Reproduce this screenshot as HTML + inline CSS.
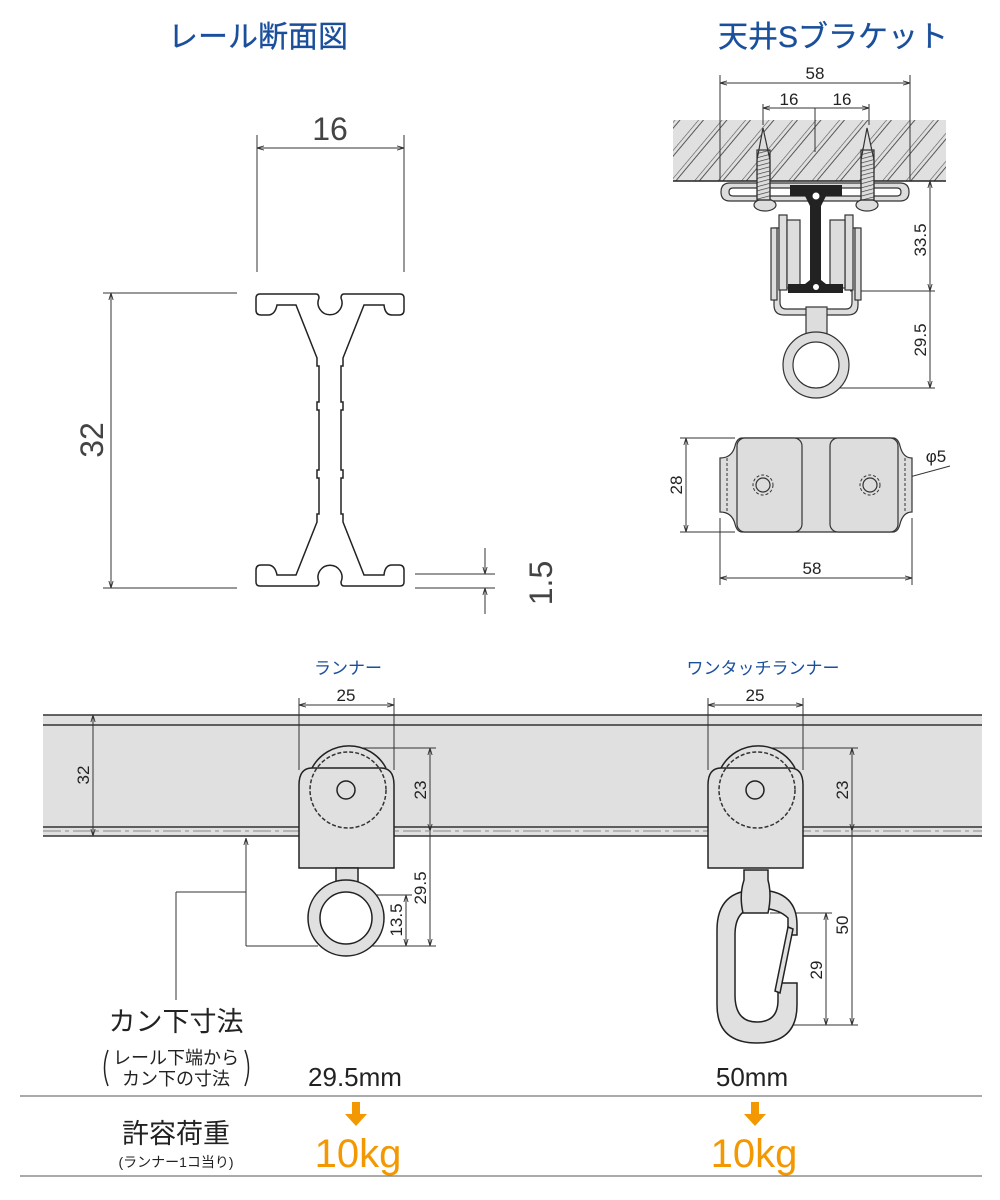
<!DOCTYPE html>
<html><head><meta charset="utf-8"><style>
body{margin:0;background:#fff}
svg{display:block;font-family:"Liberation Sans","Noto Sans CJK JP",sans-serif}
</style></head><body>
<svg width="1000" height="1200" viewBox="0 0 1000 1200" xmlns="http://www.w3.org/2000/svg">
<defs>
<marker id="a" viewBox="0 0 10 10" refX="10" refY="5" markerWidth="7" markerHeight="7" orient="auto-start-reverse"><path d="M0,2 L10,5 L0,8" fill="none" stroke="#333" stroke-width="1.3"/></marker>
<pattern id="h" width="18" height="18" patternUnits="userSpaceOnUse" patternTransform="rotate(40)"><line x1="0" y1="0" x2="0" y2="18" stroke="#333" stroke-width="1.2"/><line x1="4" y1="0" x2="4" y2="18" stroke="#333" stroke-width="1"/></pattern>
<pattern id="th" width="4" height="4" patternUnits="userSpaceOnUse" patternTransform="rotate(-15)"><line x1="0" y1="0" x2="4" y2="0" stroke="#333" stroke-width="1.3"/></pattern>
</defs>
<g fill="#1a4f9c" font-size="30" text-anchor="middle" font-weight="bold">
<text x="258" y="47" stroke="#1a4f9c" stroke-width="0.3" font-weight="normal">レール断面図</text>
<text x="833" y="47" stroke="#1a4f9c" stroke-width="0.3" font-weight="normal">天井Sブラケット</text>
</g>

<!-- rail section -->
<g stroke="#333" stroke-width="1" fill="none">
<line x1="257" y1="135" x2="257" y2="272"/><line x1="404" y1="135" x2="404" y2="272"/>
<line x1="257" y1="148" x2="404" y2="148" marker-start="url(#a)" marker-end="url(#a)"/>
<line x1="103" y1="293" x2="237" y2="293"/><line x1="103" y1="588" x2="237" y2="588"/>
<line x1="111" y1="293" x2="111" y2="588" marker-start="url(#a)" marker-end="url(#a)"/>
<line x1="415" y1="574" x2="495" y2="574"/><line x1="415" y1="588" x2="495" y2="588"/>
<line x1="485" y1="548" x2="485" y2="574" marker-end="url(#a)"/>
<line x1="485" y1="614" x2="485" y2="588" marker-end="url(#a)"/>
</g>
<g fill="#444" font-size="32" text-anchor="middle">
<text x="330" y="140">16</text>
<text transform="translate(103,440) rotate(-90)">32</text>
<text transform="translate(552,583) rotate(-90)">1.5</text>
</g>
<g fill="#fff" stroke="#222" stroke-width="1.5">
<path id="ph" d="M319,440 V410 H317 V402 H319 V366 H317 V358 L296,305 H277 Q275,315 268,315 H261 Q256,315 256,310 V298 Q256,294 260,294 H316 Q319,294 319,298 A12 12 0 1 0 341,298 Q341,294 344,294 H400 Q404,294 404,298 V310 Q404,315 399,315 H392 Q385,315 384,305 H364 L343,358 V366 H341 V402 H343 V410 H341 V440"/>
<use href="#ph" transform="translate(0,880) scale(1,-1)"/>
</g>

<!-- bracket -->
<rect x="673" y="120" width="273" height="61" fill="#e0e0e0"/>
<rect x="673" y="120" width="273" height="61" fill="url(#h)" opacity="0.8"/>
<line x1="673" y1="181" x2="946" y2="181" stroke="#222" stroke-width="1.5"/>
<g stroke="#333" stroke-width="1" fill="none">
<line x1="720" y1="75" x2="720" y2="181"/><line x1="910" y1="75" x2="910" y2="181"/>
<line x1="720" y1="83" x2="910" y2="83" marker-start="url(#a)" marker-end="url(#a)"/>
<line x1="763" y1="104" x2="763" y2="125"/><line x1="869" y1="104" x2="869" y2="125"/>
<line x1="815" y1="108" x2="763" y2="108" marker-end="url(#a)"/><line x1="815" y1="108" x2="869" y2="108" marker-end="url(#a)"/>
<line x1="815" y1="108" x2="815" y2="152"/>
<line x1="850" y1="291" x2="935" y2="291"/><line x1="816" y1="388" x2="935" y2="388"/>
<line x1="930" y1="181" x2="930" y2="291" marker-start="url(#a)" marker-end="url(#a)"/>
<line x1="930" y1="291" x2="930" y2="388" marker-end="url(#a)"/>
</g>
<g fill="#222" font-size="17" text-anchor="middle">
<text x="815" y="79">58</text><text x="789" y="105">16</text><text x="842" y="105">16</text>
<text transform="translate(926,240) rotate(-90)">33.5</text>
<text transform="translate(926,340) rotate(-90)">29.5</text>
</g>
<g stroke="#333" stroke-width="1.2" fill="#ddd">
<path d="M730,183 H900 Q909,183 909,192 Q909,201 900,201 H730 Q721,201 721,192 Q721,183 730,183 Z"/>
<path d="M733,188 H897 Q901,188 901,192 Q901,196 897,196 H733 Q729,196 729,192 Q729,188 733,188 Z" fill="#fff"/>
<ellipse cx="765" cy="205" rx="11" ry="6"/><ellipse cx="867" cy="205" rx="11" ry="6"/>
<path d="M763,128 L770,160 V200 H757 V160 Z"/><path d="M867,128 L874,160 V200 H861 V160 Z"/>
<rect x="757" y="150" width="13" height="50" fill="url(#th)"/><rect x="861" y="150" width="13" height="50" fill="url(#th)"/>
<path d="M774,228 V305 Q774,315 784,315 H848 Q858,315 858,305 V228 H852 V302 Q852,309 846,309 H786 Q780,309 780,302 V228 Z"/>
<rect x="779" y="215" width="8" height="75"/><rect x="787" y="220" width="13" height="68"/>
<rect x="845" y="215" width="8" height="75"/><rect x="830" y="220" width="15" height="68"/>
<rect x="771" y="228" width="6" height="72"/><rect x="855" y="228" width="6" height="72"/>
<rect x="806" y="307" width="21" height="38"/>
<circle cx="816" cy="365" r="33"/><circle cx="816" cy="365" r="23" fill="#fff"/>
</g>
<path d="M790,185 H842 V196 H826 L821,206 V280 L826,284 H843 V293 H788 V284 H805 L810,280 V206 L805,196 H790 Z" fill="#222"/>
<circle cx="816" cy="196" r="3.5" fill="#fff"/>
<circle cx="816" cy="287" r="3" fill="#fff"/>

<!-- bottom plate -->
<g stroke="#333" stroke-width="1" fill="none">
<line x1="680" y1="438" x2="735" y2="438"/><line x1="680" y1="532" x2="735" y2="532"/>
<line x1="686" y1="438" x2="686" y2="532" marker-start="url(#a)" marker-end="url(#a)"/>
<line x1="720" y1="518" x2="720" y2="585"/><line x1="912" y1="518" x2="912" y2="585"/>
<line x1="720" y1="578" x2="912" y2="578" marker-start="url(#a)" marker-end="url(#a)"/>
<line x1="862" y1="490" x2="950" y2="466"/>
</g>
<g stroke="#333" stroke-width="1.2" fill="#ddd">
<path d="M742,438 H893 Q898,438 900,446 Q903,458 912,458 V512 Q903,512 900,524 Q898,532 893,532 H742 Q737,532 735,524 Q732,512 720,512 V458 Q732,458 735,446 Q737,438 742,438 Z"/>
<rect x="737" y="438" width="65" height="94" rx="8"/><rect x="830" y="438" width="68" height="94" rx="8"/>
<circle cx="763" cy="485" r="7" fill="#ddd"/><circle cx="870" cy="485" r="7"/>
</g>
<g stroke="#333" stroke-width="1" fill="none" stroke-dasharray="3,2">
<circle cx="763" cy="485" r="10"/><circle cx="870" cy="485" r="10"/>
<line x1="727" y1="458" x2="727" y2="512"/><line x1="905" y1="458" x2="905" y2="512"/>
</g>
<g fill="#222" font-size="17" text-anchor="middle">
<text x="812" y="574">58</text>
<text transform="translate(682,485) rotate(-90)">28</text>
<text x="936" y="462">φ5</text>
</g>

<!-- long rail -->
<rect x="43" y="715" width="939" height="121" fill="#e0e0e0"/>
<g stroke="#333" stroke-width="1.6">
<line x1="43" y1="715" x2="982" y2="715"/><line x1="43" y1="725" x2="982" y2="725"/>
<line x1="43" y1="827" x2="982" y2="827"/><line x1="43" y1="836" x2="982" y2="836"/>
</g>
<line x1="43" y1="831" x2="982" y2="831" stroke="#888" stroke-width="1" stroke-dasharray="18,4,4,4"/>
<g stroke="#333" stroke-width="1" fill="none">
<line x1="93" y1="715" x2="93" y2="836" marker-start="url(#a)" marker-end="url(#a)"/>
</g>
<g fill="#1a4f9c" font-size="17" text-anchor="middle">
<text x="348" y="674">ランナー</text><text x="763" y="674">ワンタッチランナー</text>
</g>

<!-- runner 1 -->
<g stroke="#333" stroke-width="1" fill="none">
<line x1="299" y1="698" x2="299" y2="770"/><line x1="394" y1="698" x2="394" y2="770"/>
<line x1="299" y1="705" x2="394" y2="705" marker-start="url(#a)" marker-end="url(#a)"/>
<line x1="350" y1="748" x2="436" y2="748"/><line x1="360" y1="946" x2="436" y2="946"/><line x1="365" y1="895" x2="412" y2="895"/>
<line x1="430" y1="748" x2="430" y2="831" marker-start="url(#a)" marker-end="url(#a)"/>
<line x1="430" y1="831" x2="430" y2="946" marker-end="url(#a)"/>
<line x1="406" y1="895" x2="406" y2="946" marker-start="url(#a)" marker-end="url(#a)"/>
<line x1="246" y1="946" x2="318" y2="946"/>
<line x1="246" y1="946" x2="246" y2="838" marker-end="url(#a)"/>
<line x1="176" y1="892" x2="246" y2="892"/><line x1="176" y1="892" x2="176" y2="1000"/>
</g>
<g stroke="#222" stroke-width="1.5" fill="#e0e0e0">
<path d="M312,768 A42,42 0 0 1 386,768"/>
<path d="M299,785 Q299,768 312,768 H381 Q394,768 394,785 V868 H299 Z"/>
<rect x="336" y="868" width="22" height="38"/>
<circle cx="346" cy="918" r="38"/><circle cx="346" cy="918" r="26" fill="#fff"/>
<circle cx="346" cy="790" r="9" fill="#e0e0e0"/>
</g>
<circle cx="348" cy="790" r="38" fill="none" stroke="#333" stroke-width="1.5" stroke-dasharray="4,2"/>
<!-- runner 2 -->
<g stroke="#333" stroke-width="1" fill="none">
<line x1="708" y1="698" x2="708" y2="770"/><line x1="803" y1="698" x2="803" y2="770"/>
<line x1="708" y1="705" x2="803" y2="705" marker-start="url(#a)" marker-end="url(#a)"/>
<line x1="760" y1="748" x2="858" y2="748"/><line x1="760" y1="1025" x2="858" y2="1025"/><line x1="770" y1="913" x2="832" y2="913"/>
<line x1="852" y1="748" x2="852" y2="831" marker-start="url(#a)" marker-end="url(#a)"/>
<line x1="852" y1="831" x2="852" y2="1025" marker-end="url(#a)"/>
<line x1="826" y1="913" x2="826" y2="1025" marker-start="url(#a)" marker-end="url(#a)"/>
</g>
<g stroke="#222" stroke-width="1.5" fill="#e0e0e0">
<path d="M721,768 A42,42 0 0 1 795,768"/>
<path d="M708,785 Q708,768 721,768 H790 Q803,768 803,785 V868 H708 Z"/>
<path d="M717,930 Q717,890 757,890 Q797,890 797,925 V935 H788 V918 Q778,908 757,908 Q735,908 735,935 V995 Q735,1022 757,1022 Q778,1022 778,1000 V983 H797 V1005 Q797,1043 757,1043 Q717,1043 717,1005 Z"/>
<path d="M744,870 H768 V880 Q772,895 768,913 H743 Q739,895 744,880 Z"/>
<path d="M788,927 L793,929 L780,993 L775,991 Z"/>
<circle cx="755" cy="790" r="9"/>
</g>
<circle cx="757" cy="790" r="38" fill="none" stroke="#333" stroke-width="1.5" stroke-dasharray="4,2"/>
<g fill="#222" font-size="17" text-anchor="middle">
<text x="346" y="701">25</text><text x="755" y="701">25</text>
<text transform="translate(89,775) rotate(-90)">32</text>
<text transform="translate(426,790) rotate(-90)">23</text>
<text transform="translate(426,888) rotate(-90)">29.5</text>
<text transform="translate(402,920) rotate(-90)">13.5</text>
<text transform="translate(848,790) rotate(-90)">23</text>
<text transform="translate(848,925) rotate(-90)">50</text>
<text transform="translate(822,970) rotate(-90)">29</text>
</g>

<!-- bottom text -->
<g fill="#222" text-anchor="middle">
<text x="176" y="1031" font-size="27">カン下寸法</text>
<text x="176" y="1064" font-size="18">レール下端から</text>
<text x="176" y="1085" font-size="18">カン下の寸法</text>
<text x="355" y="1086" font-size="26">29.5mm</text>
<text x="752" y="1086" font-size="26">50mm</text>
<text x="176" y="1143" font-size="27">許容荷重</text>
<text x="176" y="1167" font-size="14">(ランナー1コ当り)</text>
</g>
<path d="M108,1050 Q101,1068 108,1086 M245,1050 Q252,1068 245,1086" stroke="#222" stroke-width="1.5" fill="none"/>
<line x1="20" y1="1096" x2="982" y2="1096" stroke="#777" stroke-width="1.2"/>
<line x1="20" y1="1176" x2="982" y2="1176" stroke="#777" stroke-width="1.2"/>
<g fill="#f39800">
<path d="M352,1102 H360 V1114 H367 L356,1126 L345,1114 H352 Z"/>
<path d="M751,1102 H759 V1114 H766 L755,1126 L744,1114 H751 Z"/>
<text x="358" y="1167" font-size="40" text-anchor="middle">10kg</text>
<text x="754" y="1167" font-size="40" text-anchor="middle">10kg</text>
</g>
</svg>
</body></html>
